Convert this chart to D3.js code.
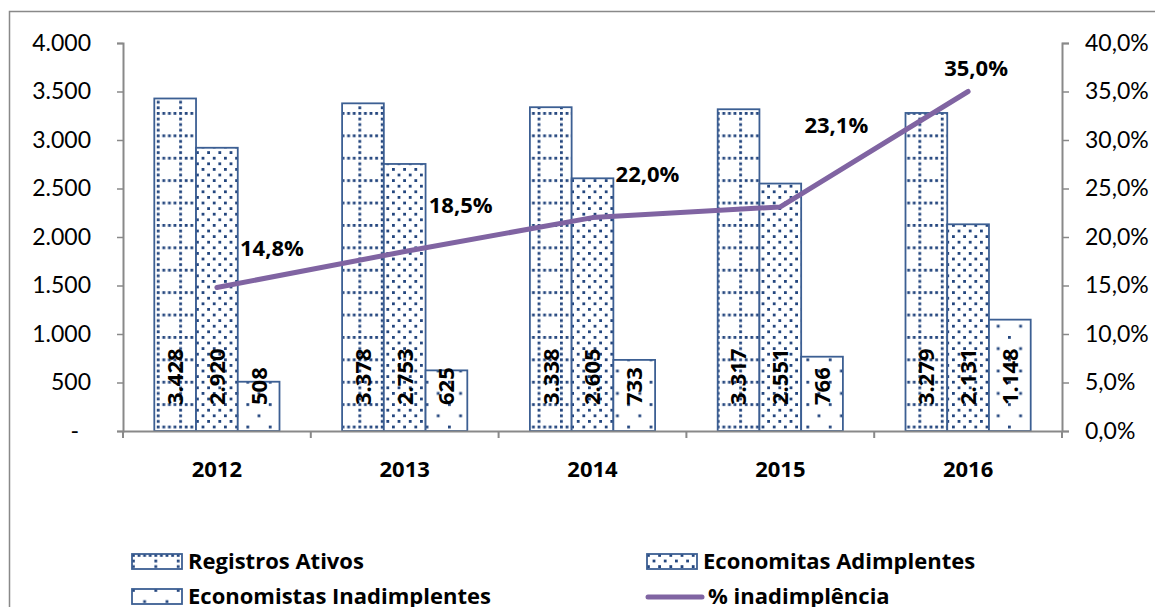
<!DOCTYPE html>
<html>
<head>
<meta charset="utf-8">
<script src="https://cdn.jsdelivr.net/npm/d3@7"></script>
<style>
  body { margin: 0; background: #fff; }
  svg text { font-family: Lato, "Noto Sans", sans-serif; fill: #000; }
  svg text.bold { font-family: "Open Sans", Lato, sans-serif; font-weight: bold; }
</style>
</head>
<body>
<div id="chart"></div>
<script>
// Data
var years = ["2012", "2013", "2014", "2015", "2016"];
var registrosAtivos = [3428, 3378, 3338, 3317, 3279];
var economistasAdimplentes = [2920, 2753, 2605, 2551, 2131];
var economistasInadimplentes = [508, 625, 733, 766, 1148];
var pctInadimplencia = [14.8, 18.5, 22.0, 23.1, 35.0];
var leftTicks = [0, 500, 1000, 1500, 2000, 2500, 3000, 3500, 4000];
var rightTicks = [0, 5, 10, 15, 20, 25, 30, 35, 40];
var seriesNames = ["Registros Ativos", "Economitas Adimplentes", "Economistas Inadimplentes", "% inadimplência"];

// label nudges for the % labels (dx, dy from the point)
var pctLabelOffset = [[55, -39], [56, -46], [55, -44], [56, -82], [8, -23]];

var width = 1155, height = 607;
var plot = { left: 123, right: 1062, top: 43, bottom: 431 };
var axisGray = "#898989";
var barStroke = "#3C5F93";
var dotColor = "#24467E";
var lineColor = "#8064A2";

var svg = d3.select("#chart").append("svg")
    .attr("width", width)
    .attr("height", height);

// patterns
var defs = svg.append("defs");

// dotted grid
var p1 = defs.append("pattern").attr("id", "pat-grid")
    .attr("patternUnits", "userSpaceOnUse")
    .attr("width", 22.4).attr("height", 22.4);
p1.append("rect").attr("width", 22.4).attr("height", 22.4).attr("fill", "#fff");
[0, 5.6, 11.2, 16.8].forEach(function(o) {
    p1.append("rect").attr("x", o).attr("y", 0).attr("width", 2.8).attr("height", 2.8).attr("fill", dotColor);
    if (o > 0) p1.append("rect").attr("x", 0).attr("y", o).attr("width", 2.8).attr("height", 2.8).attr("fill", dotColor);
});

// staggered dots
var p2 = defs.append("pattern").attr("id", "pat-dots")
    .attr("patternUnits", "userSpaceOnUse")
    .attr("width", 11.2).attr("height", 11.2);
p2.append("rect").attr("width", 11.2).attr("height", 11.2).attr("fill", "#fff");
p2.append("rect").attr("x", 0).attr("y", 0).attr("width", 2.8).attr("height", 2.8).attr("fill", dotColor);
p2.append("rect").attr("x", 5.6).attr("y", 5.6).attr("width", 2.8).attr("height", 2.8).attr("fill", dotColor);

// sparse dots
var p3 = defs.append("pattern").attr("id", "pat-sparse")
    .attr("patternUnits", "userSpaceOnUse")
    .attr("width", 22.4).attr("height", 22.4);
p3.append("rect").attr("width", 22.4).attr("height", 22.4).attr("fill", "#fff");
p3.append("rect").attr("x", 0).attr("y", 0).attr("width", 2.8).attr("height", 2.8).attr("fill", dotColor);
p3.append("rect").attr("x", 11.2).attr("y", 11.2).attr("width", 2.8).attr("height", 2.8).attr("fill", dotColor);

var fills = ["url(#pat-grid)", "url(#pat-dots)", "url(#pat-sparse)"];

// chart frame
svg.append("rect")
    .attr("x", 9.5).attr("y", 11.5)
    .attr("width", width + 20).attr("height", height + 20)
    .attr("fill", "none")
    .attr("stroke", axisGray)
    .attr("stroke-width", 1.5);

// scales
var x = d3.scaleBand().domain(years).range([plot.left, plot.right]).padding(0);
var barW = x.bandwidth() / 4.5;
var y = d3.scaleLinear().domain([0, 4000]).range([plot.bottom, plot.top]);
var y2 = d3.scaleLinear().domain([0, 40]).range([plot.bottom, plot.top]);

var fmtThousands = function(d) { return d3.format(",")(d).replace(/,/g, "."); };
var fmtPct = function(d) { return d3.format(".1f")(d).replace(".", ",") + "%"; };

// bars
var barSeries = [registrosAtivos, economistasAdimplentes, economistasInadimplentes];
barSeries.forEach(function(vals, s) {
    var g = svg.append("g");
    g.selectAll("rect")
        .data(vals)
        .enter().append("rect")
        .attr("x", function(d, i) { return x(years[i]) + barW * 0.75 + s * barW; })
        .attr("y", function(d) { return y(d); })
        .attr("width", barW)
        .attr("height", function(d) { return y(0) - y(d); })
        .attr("fill", fills[s])
        .attr("stroke", barStroke)
        .attr("stroke-width", 1.8);

    g.selectAll("text")
        .data(vals)
        .enter().append("text")
        .attr("class", "bold")
        .attr("transform", function(d, i) {
            var cx = x(years[i]) + barW * 0.75 + s * barW + barW / 2;
            return "translate(" + cx + "," + (y(0) - 26) + ") rotate(-90)";
        })
        .attr("dy", "0.36em")
        .style("font-size", "22px")
        .text(fmtThousands);
});

// left axis
var leftAxis = d3.axisLeft(y).tickValues(leftTicks).tickSize(6).tickPadding(26)
    .tickFormat(function(d) { return d === 0 ? "-" : fmtThousands(d); });
var gl = svg.append("g").attr("transform", "translate(" + plot.left + ",0)").call(leftAxis);
gl.selectAll(".tick text").filter(function(d) { return d === 0; }).attr("dx", -12);

// right axis
var rightAxis = d3.axisRight(y2).tickValues(rightTicks).tickSize(7).tickPadding(16)
    .tickFormat(fmtPct);
var gr = svg.append("g").attr("transform", "translate(" + plot.right + ",0)").call(rightAxis);

// bottom axis
var bottomAxis = d3.axisBottom(x).tickSize(0).tickPadding(30);
var gb = svg.append("g").attr("transform", "translate(0," + plot.bottom + ")").call(bottomAxis);
gb.selectAll(".tick text").attr("class", "bold").style("font-size", "22px");
// category separators
gb.selectAll(".sep")
    .data(years.concat(["end"]))
    .enter().append("line")
    .attr("x1", function(d, i) { return plot.left + i * x.bandwidth(); })
    .attr("x2", function(d, i) { return plot.left + i * x.bandwidth(); })
    .attr("y1", 0).attr("y2", 7)
    .attr("stroke", axisGray).attr("stroke-width", 2);

[gl, gr, gb].forEach(function(g) {
    g.attr("font-family", null);
    g.select(".domain").attr("stroke", axisGray).attr("stroke-width", 2);
    g.selectAll(".tick line").attr("stroke", axisGray).attr("stroke-width", 1.5);
});
gl.selectAll(".tick text").style("font-size", "23px");
gr.selectAll(".tick text").style("font-size", "23px");

// line
var line = d3.line()
    .x(function(d, i) { return x(years[i]) + x.bandwidth() / 2; })
    .y(function(d) { return y2(d); });

svg.append("path")
    .datum(pctInadimplencia)
    .attr("d", line)
    .attr("fill", "none")
    .attr("stroke", lineColor)
    .attr("stroke-width", 5)
    .attr("stroke-linecap", "round")
    .attr("stroke-linejoin", "round");

svg.selectAll(".pct-label")
    .data(pctInadimplencia)
    .enter().append("text")
    .attr("class", "bold")
    .attr("x", function(d, i) { return x(years[i]) + x.bandwidth() / 2 + pctLabelOffset[i][0]; })
    .attr("y", function(d, i) { return y2(d) + pctLabelOffset[i][1]; })
    .attr("dy", "0.36em")
    .attr("text-anchor", "middle")
    .style("font-size", "22px")
    .text(fmtPct);

// legend
var legendPos = [[132, 554], [647, 554], [132, 589], [647, 589]];
var legend = svg.selectAll(".legend")
    .data(seriesNames)
    .enter().append("g")
    .attr("class", "legend")
    .attr("transform", function(d, i) { return "translate(" + legendPos[i][0] + "," + legendPos[i][1] + ")"; });

legend.each(function(d, i) {
    var g = d3.select(this);
    if (i < 3) {
        g.append("rect")
            .attr("x", 0).attr("y", 0)
            .attr("width", 50).attr("height", 15)
            .attr("fill", fills[i])
            .attr("stroke", barStroke)
            .attr("stroke-width", 1.8);
    } else {
        g.append("line")
            .attr("x1", 1).attr("x2", 55)
            .attr("y1", 8).attr("y2", 8)
            .attr("stroke", lineColor)
            .attr("stroke-width", 5)
            .attr("stroke-linecap", "round");
    }
    g.append("text")
        .attr("class", "bold")
        .attr("x", i < 3 ? 56 : 61)
        .attr("y", 15)
        .style("font-size", "22px")
        .text(d);
});
</script>
</body>
</html>
